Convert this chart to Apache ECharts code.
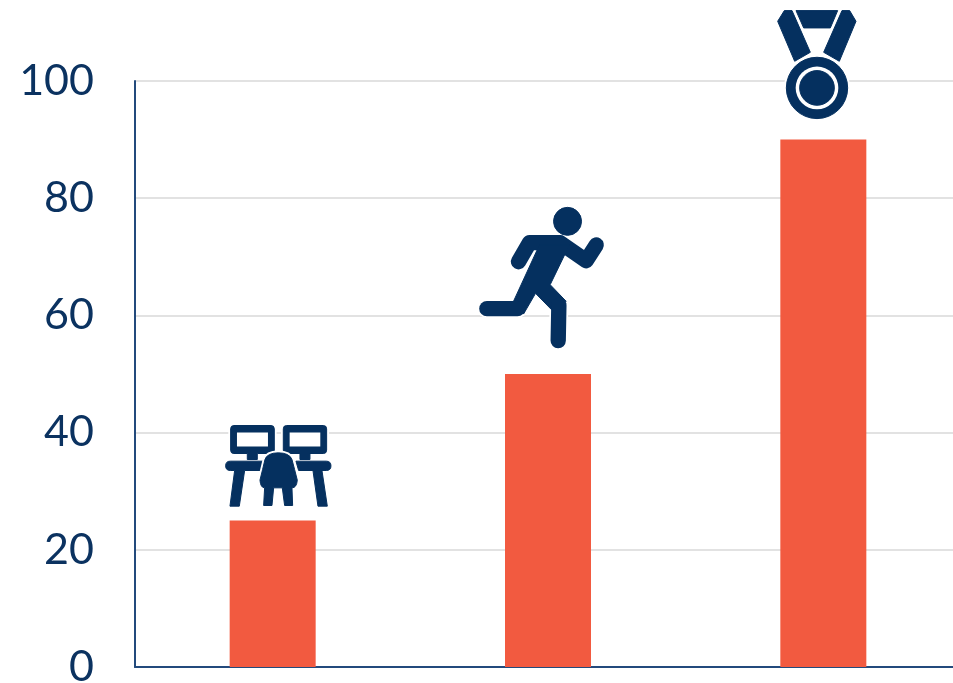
<!DOCTYPE html>
<html>
<head>
<meta charset="utf-8">
<script src="https://cdn.jsdelivr.net/npm/echarts@6/dist/echarts.min.js"></script>
<style>
  html, body { margin: 0; padding: 0; background: #fff; }
  #chart { width: 953px; height: 683px; }
</style>
</head>
<body>
<div id="chart"></div>
<script>
// Chart data
const categories = ['Work', 'Training', 'Award'];
const values = [25, 50, 90];
const yTicks = [0, 20, 40, 60, 80, 100];

const NAVY = '#05305f';
const BAR = '#f25a40';
const INK = '#0b3260';

// Glyphs are drawn on a 3x grid, anchored at an origin given relative to the bar's top centre.
// Each part: d = path, kind = fill | line | cut (white knockout) | halo, w = stroke width.
const deskGlyph = {
  origin: [62.7, 111],
  halo: 7,
  parts: [
    { kind: 'fill', d: 'M72 48H183Q193 48 193 58V122Q193 132 183 132H142V150H112V132H72Q62 132 62 122V58Q62 48 72 48Z' },
    { kind: 'cut', d: 'M81 69H174V111H81Z' },
    { kind: 'fill', d: 'M230 48H340Q350 48 350 58V122Q350 132 340 132H300V150H270V132H230Q220 132 220 122V58Q220 48 230 48Z' },
    { kind: 'cut', d: 'M239 69H331V111H239Z' },
    { kind: 'fill', d: 'M61 155H160L152 183H104L88 290H60L74 183H61Q47 183 47 169Q47 155 61 155Z' },
    { kind: 'fill', d: 'M258 155H349Q363 155 363 169Q363 183 349 183H336L352 290H324L309 183H266Z' },
    { kind: 'halo', d: 'M165 150Q172 130 205 130Q238 130 246 150Q254 180 262 212Q260 235 243 235H165Q152 235 150 212Q158 180 165 150Z' },
    { kind: 'fill', d: 'M165 150Q172 130 205 130Q238 130 246 150Q254 180 262 212Q260 235 246 235L248 288H224L217 235H191L186 288H161L164 235Q152 235 150 212Q158 180 165 150Z' }
  ]
};

const runnerGlyph = {
  origin: [87.8, 179.3],
  halo: 5,
  parts: [
    { kind: 'fill', d: 'M280 80A42 42 0 1 0 364 80A42 42 0 1 0 280 80Z' },
    { kind: 'line', w: 46, d: 'M175 201L208 144H300L378 198L408 151' },
    { kind: 'fill', d: 'M238 150H328L270 270L318 320L274 345L226 296L190 358L158 324Z' },
    { kind: 'line', w: 46, d: 'M296 332L294 438' },
    { kind: 'line', w: 46, d: 'M172 342H80' }
  ]
};

const medalGlyph = {
  origin: [73, 140],
  halo: 7,
  parts: [
    { kind: 'fill', d: 'M137 33H262L240 85H160Z' },
    { kind: 'fill', d: 'M82 65L102 33H125L180 158L133 185Z' },
    { kind: 'fill', d: 'M317 65L298 33H275L220 158L267 185Z' },
    { kind: 'fill', d: 'M108 265A92 92 0 1 0 292 265A92 92 0 1 0 108 265Z' },
    { kind: 'cut', d: 'M136 265A64 64 0 1 0 264 265A64 64 0 1 0 136 265Z' },
    { kind: 'fill', d: 'M148 265A52 52 0 1 0 252 265A52 52 0 1 0 148 265Z' }
  ]
};

const glyphs = [deskGlyph, runnerGlyph, medalGlyph];

function haloStyle(part, width) {
  return {
    lineJoin: 'round',
    lineCap: 'round',
    fill: part.kind === 'line' ? 'none' : '#fff',
    stroke: '#fff',
    lineWidth: (part.kind === 'line' ? part.w : 0) + width * 2
  };
}

function inkStyle(part) {
  if (part.kind === 'line') {
    return { lineJoin: 'round', lineCap: 'round', fill: 'none', stroke: NAVY, lineWidth: part.w };
  }
  if (part.kind === 'cut') {
    return { fill: '#fff' };
  }
  // A thin stroke softens corners and gives the filled shapes their weight.
  return { lineJoin: 'round', fill: NAVY, stroke: NAVY, lineWidth: 3 };
}

// Draws a category's glyph standing just above its bar.
function renderGlyph(params, api) {
  const top = api.coord([api.value(0), api.value(1)]);
  const glyph = glyphs[params.dataIndex];
  const children = [];
  // White outline first so gridlines stop short of the glyph.
  glyph.parts.forEach(function (part) {
    if (part.kind !== 'cut' && part.kind !== 'halo') {
      children.push({ type: 'path', shape: { pathData: part.d }, style: haloStyle(part, glyph.halo), silent: true });
    }
  });
  glyph.parts.forEach(function (part) {
    const style = part.kind === 'halo' ? haloStyle(part, glyph.halo) : inkStyle(part);
    children.push({ type: 'path', shape: { pathData: part.d }, style: style, silent: true });
  });
  return {
    type: 'group',
    x: top[0] - glyph.origin[0],
    y: top[1] - glyph.origin[1],
    scaleX: 1 / 3,
    scaleY: 1 / 3,
    children: children
  };
}

const chart = echarts.init(document.getElementById('chart'), null, { renderer: 'canvas' });
chart.setOption({
  animation: false,
  backgroundColor: '#fff',
  grid: { left: 135, right: -8, top: 81, bottom: 16, outerBoundsMode: 'none' },
  xAxis: {
    type: 'category',
    data: categories,
    axisLine: { show: true, lineStyle: { color: '#234a7c', width: 2 } },
    axisTick: { show: false },
    axisLabel: { show: false }
  },
  yAxis: {
    type: 'value',
    min: yTicks[0],
    max: yTicks[yTicks.length - 1],
    interval: yTicks[1] - yTicks[0],
    axisLine: { show: true, lineStyle: { color: '#234a7c', width: 2 } },
    axisTick: { show: false },
    axisLabel: {
      color: INK,
      fontFamily: 'Lato',
      fontSize: 43,
      margin: 41
    },
    splitLine: { show: true, lineStyle: { color: '#d9d9d9', width: 1.5 } }
  },
  series: [
    {
      type: 'bar',
      data: values,
      barWidth: 86,
      itemStyle: { color: BAR }
    },
    {
      type: 'custom',
      data: values.map(function (v, i) { return [i, v]; }),
      encode: { x: 0, y: 1 },
      clip: false,
      z: 5,
      renderItem: renderGlyph
    }
  ]
});
</script>
</body>
</html>
